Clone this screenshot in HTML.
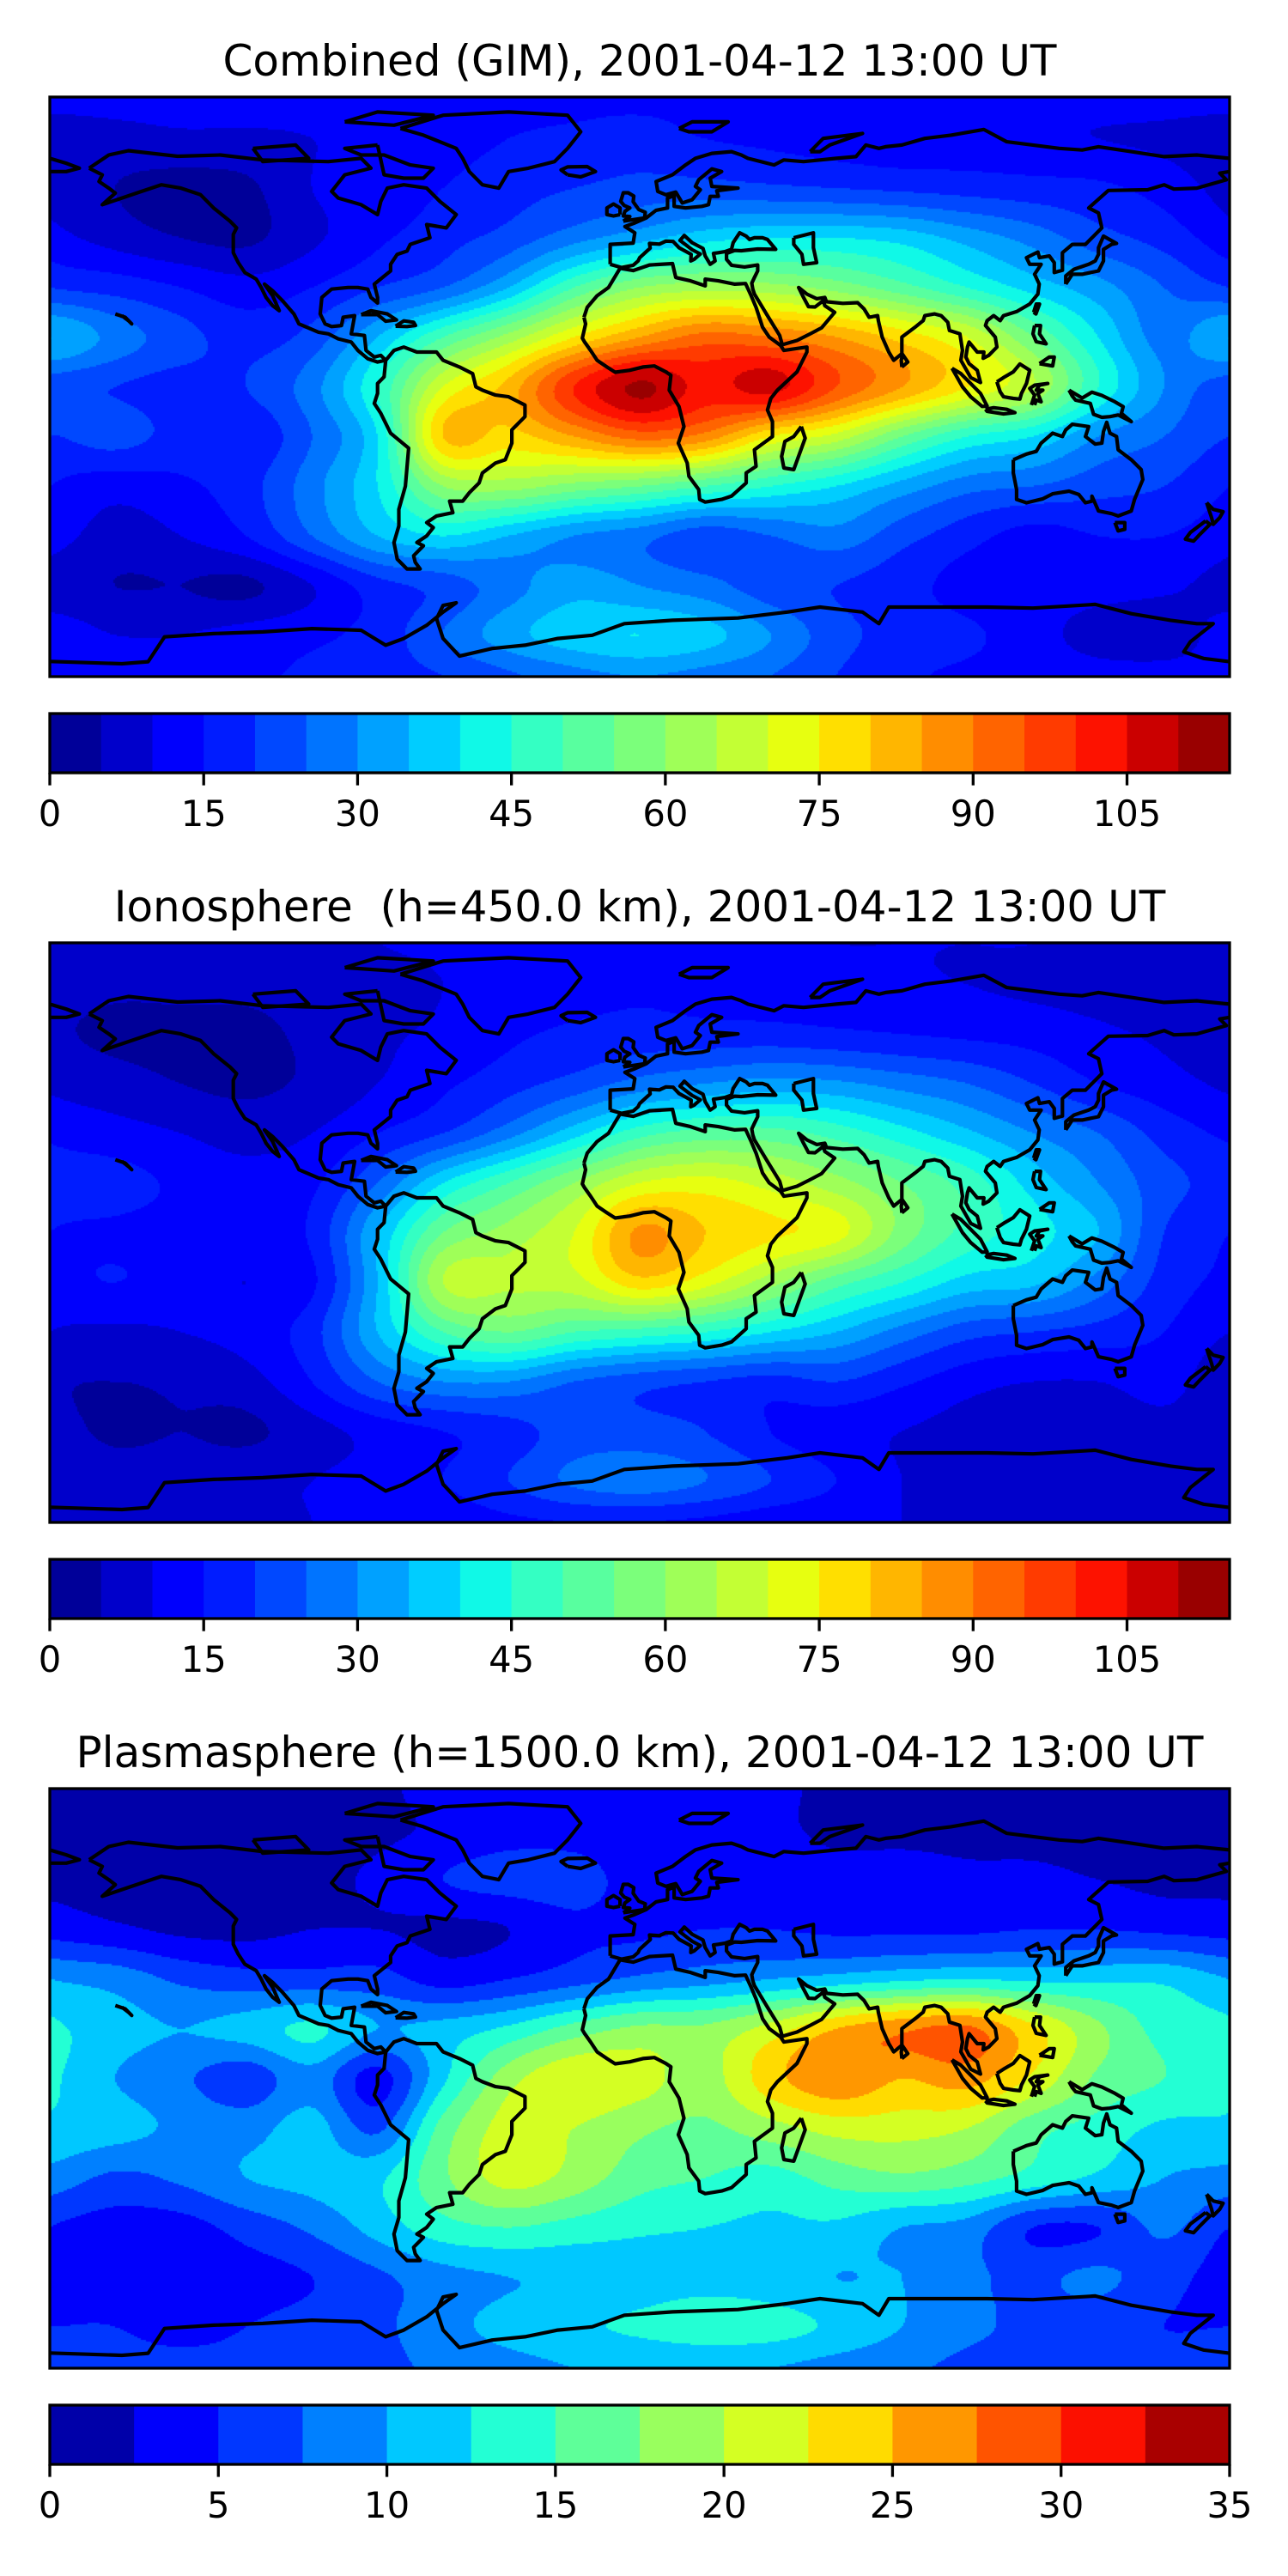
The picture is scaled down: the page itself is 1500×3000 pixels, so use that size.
<!DOCTYPE html>
<html><head><meta charset="utf-8">
<style>
html,body{margin:0;padding:0;background:#fff;}
body{width:1500px;height:3000px;position:relative;overflow:hidden;font-family:"DejaVu Sans","Liberation Sans",sans-serif;}
canvas{position:absolute;left:58px;}
#overlay{position:absolute;left:0;top:0;}
</style></head>
<body>
<canvas id="map0" width="1374" height="675" style="top:113px"></canvas>
<canvas id="map1" width="1374" height="675" style="top:1098px"></canvas>
<canvas id="map2" width="1374" height="675" style="top:2083px"></canvas>
<svg id="overlay" width="1500" height="3000" xmlns="http://www.w3.org/2000/svg">
<defs><clipPath id="mapclip"><rect x="0" y="0" width="1374" height="675"/></clipPath></defs>
<text x="745" y="88" font-size="50" text-anchor="middle" font-family="DejaVu Sans, sans-serif">Combined (GIM), 2001-04-12 13:00 UT</text>
<text x="745" y="1073" font-size="50" text-anchor="middle" font-family="DejaVu Sans, sans-serif" xml:space="preserve">Ionosphere  (h=450.0 km), 2001-04-12 13:00 UT</text>
<text x="745" y="2058" font-size="50" text-anchor="middle" font-family="DejaVu Sans, sans-serif">Plasmasphere (h=1500.0 km), 2001-04-12 13:00 UT</text>
</svg>
<script>
// ---------- data ----------
const gridLons = [-180,-160,-140,-120,-100,-80,-60,-40,-20,0,20,40,60,80,100,120,140,160,180];
const gridLats = [87.5,75,60,45,30,15,0,-15,-30,-45,-60,-75,-87.5];

const combinedTEC = [
[12,12,12,12,12,13,13,14,14,14,14,13,13,13,12,12,12,12,12],
[7,8,9,9,10,11,13,15,16,17,15,14,13,12,12,11,10,9,7],
[8,5,3,4,10,12,15,18,20,22,22,21,20,19,18,17,16,13,8],
[12,8,5,4,9,14,18,22,28,33,38,40,40,38,33,28,22,18,12],
[20,18,15,12,15,20,25,35,50,60,63,62,58,52,45,38,32,25,20],
[35,28,22,18,22,35,50,62,75,85,92,90,85,78,70,55,40,28,35],
[22,20,18,20,28,45,70,82,100,111,103,107,95,85,75,65,45,30,22],
[20,22,18,16,25,40,80,78,85,92,88,75,68,55,45,40,30,25,20],
[15,12,14,18,28,40,60,62,58,55,50,45,40,33,27,25,22,20,15],
[12,8,10,15,25,35,40,35,30,27,22,25,28,22,17,13,15,15,12],
[8,5,5,4,10,18,22,28,33,30,27,22,20,17,13,12,12,11,8],
[12,10,10,12,14,17,25,33,38,40,37,30,22,18,16,12,8,7,12],
[12,12,13,14,16,18,20,24,28,30,28,25,20,16,14,13,12,12,12]
];
const ionosphereTEC = [
[8,8,8,8,9,10,11,11,11,11,11,11,10,10,10,10,9,9,8],
[7,6,6,6,7,8,10,12,13,14,13,12,12,11,10,9,8,7,7],
[6,4,4,4,6,9,11,14,16,17,17,17,16,15,14,13,11,9,6],
[9,7,5,4,6,10,14,18,22,27,30,32,31,28,25,20,15,12,9],
[14,12,10,8,10,15,20,28,38,48,52,52,48,42,36,30,25,18,14],
[18,17,14,12,14,25,40,50,60,70,72,68,62,55,48,38,30,22,18],
[15,14,13,12,16,35,55,62,70,86,80,76,72,58,48,42,35,20,15],
[14,15,13,10,14,35,65,66,68,78,72,62,52,45,38,36,28,18,14],
[10,9,10,12,18,35,50,55,50,48,45,40,35,28,22,20,18,15,10],
[6,5,6,8,15,25,30,30,25,22,20,18,20,16,12,10,10,12,6],
[7,4,5,4,8,12,15,18,22,22,20,15,12,10,8,6,6,8,7],
[9,8,8,9,10,12,15,20,26,28,25,20,15,10,8,7,6,6,9],
[9,9,9,9,10,11,12,14,15,15,14,12,11,10,9,9,9,9,9]
];
const plasmasphereTEC = [
[2,2,2,2,2,2,3.5,3.5,3.5,3.5,3.5,3,2,2,2,2,2,2,2],
[2,2,2,2,2,2,3,4,4,3.5,3,3,2,2,2,2,2,2,2],
[2,1.5,1.5,1.5,1.8,3,5,6,6,4,4,4,3.5,3.5,3,3,2.5,2,2],
[4,3,2,1.8,2.5,2.5,2,2.5,4.5,4.5,5,5,4.5,4.5,4.5,5,5,4.5,4],
[10,9,7,6,6,6,4,5,6.5,8,9,10,11,12,12.5,12,12,12,10],
[13,11,10,11,13,10,11,13,16,18,18,21,25,27,28,23,18,14,13],
[13,10,8,6,9,4,12,19,22,21,19,24,27,25,26,22,17,15,13],
[12,11,9.5,9,11,7,16,21,20,18,17,19,21,21,20,16,14,12,12],
[9,7,8,10,11,12,17,21,19,16,15,14,16,17,16,14,12,10,9],
[5,4,4,6,8,11,14,15,14,13,12.5,12,12,10,9,5,5,8,5],
[4,4,3.5,4,5,7,9,10,10.5,11,11.5,11,10,10,8,7,8,6,4],
[5,5,4,5,6,7,9,11,12,13,14,13.5,12,10,8,7,6,5,5],
[6,6,6,6,7,7,8,9,10,10,10,10,9,8,7,7,6,6,6]
];

const levelsA = [0,5,10,15,20,25,30,35,40,45,50,55,60,65,70,75,80,85,90,95,100,105,110,115];
const ticksA = [0,15,30,45,60,75,90,105];
const levelsB = [0,2.5,5,7.5,10,12.5,15,17.5,20,22.5,25,27.5,30,32.5,35];
const ticksB = [0,5,10,15,20,25,30,35];

// coastlines (lon, lat)
const coastNorthAmerica = [[-168,66],[-162,70],[-156,71.3],[-141,69.6],[-128,70],[-115,68.5],[-95,68],[-85,69],[-82,66],[-90,64],[-94,59],[-92,57],[-85,55],[-80,52],[-79,56],[-77,60],[-72,61],[-65,60],[-61,56],[-56,52],[-59,48],[-65,49],[-64,45],[-70,43],[-71,41],[-74,40],[-76,37],[-76,35],[-81,31],[-80,27],[-80,25.3],[-82,27],[-83,29.5],[-86,30],[-89,30],[-94,29.5],[-97,27],[-97.5,22],[-96,19],[-94,18.2],[-91,18.5],[-90.5,21],[-87,21.5],[-88,16],[-84,15.5],[-83.5,11],[-81,9],[-79,9.5],[-77.5,8],[-80,7.5],[-83,8.5],[-86,11],[-88,13.5],[-92,14.5],[-95,16],[-98,16.5],[-104,19],[-105.5,22],[-109,26],[-112,29],[-114.5,31],[-112,27.5],[-110,23],[-112,24.5],[-114,27],[-115.5,30],[-117,32.5],[-120.5,34.5],[-122.5,37.5],[-124,40.5],[-124,46],[-123,48],[-125,50],[-130,54],[-134,58],[-140,60],[-146,61],[-152,59],[-158,57],[-164,55],[-160,58.5],[-162,60],[-165,62],[-164,64],[-168,66]];
const coastGreenland = [[-73,78],[-60,82],[-40,83],[-22,82],[-18,77],[-22,72],[-26,68],[-34,66],[-40,65],[-43,60],[-48,61],[-52,65],[-54,69],[-56,72],[-66,76],[-73,78]];
const coastBaffin = [[-80,73],[-90,72],[-85,70],[-78,70],[-70,67],[-63,66],[-66,63],[-72,63],[-78,64],[-80,73]];
const coastEllesmere = [[-90,80],[-80,83],[-63,82],[-75,79],[-90,80]];
const coastVictoria = [[-118,72],[-105,73],[-101,69],[-115,68],[-118,72]];
const coastIceland = [[-22,64],[-24,65.5],[-22,66.4],[-16,66.5],[-13.5,65],[-18,63.4],[-22,64]];
const coastSouthAmerica = [[-77.5,8],[-75,11],[-72,12],[-68,10.5],[-62,10.5],[-60,8],[-55,6],[-51,4],[-50,0],[-48,-1],[-44,-2.5],[-40,-3],[-35,-5.5],[-35,-9],[-39,-13],[-39,-17],[-41,-22],[-44,-23],[-48,-26],[-49,-29],[-52,-32],[-54,-34.5],[-58,-34.5],[-57,-38],[-62,-39],[-65,-41],[-63,-42.5],[-65,-45],[-68,-47],[-66,-48],[-69,-51],[-68.5,-53],[-67,-55],[-71,-55],[-74,-52],[-75,-47],[-73.5,-42],[-73.5,-37],[-71.5,-30],[-70.5,-18.5],[-76,-14],[-79,-8],[-81,-5],[-80,-2],[-80,1],[-78,3],[-77.5,8]];
const coastAfrica = [[-17,21],[-16,24],[-13,27.5],[-9.5,30],[-6,35.8],[-2,35.1],[3,36.8],[10,37.2],[11,33],[15.5,32],[20,30.5],[20,32.5],[24,32],[29,31],[32.3,31.2],[34,27.5],[35.5,24],[37.5,18],[39.5,15],[43,12.5],[44,11],[51,12],[51,10.5],[48,4.5],[42,-1],[40,-3.5],[39,-7],[40.5,-10.5],[40.5,-15],[35,-19],[35.5,-24],[32.5,-26],[32.5,-29],[28,-33],[25,-34],[20,-34.8],[18.3,-34],[18,-31],[15,-27],[14.5,-23],[11.8,-17],[13.5,-12],[12,-6],[9,-1],[9.5,3.5],[8,4.5],[4.5,6.3],[1,6],[-3,5],[-7.5,4.4],[-10,6],[-13,8],[-15,11],[-16.8,13.5],[-17.5,14.7],[-16.5,19],[-17,21]];
const coastMadagascar = [[49.3,-12],[50.5,-15.5],[47,-25],[44,-24.5],[43.3,-21],[44.3,-16.5],[47,-15],[49.3,-12]];
const coastEurasia = [[-9,37],[-9,43],[-2,43.4],[-1.5,46.5],[-4.5,48.4],[-1.5,49.5],[2,51],[5,53.3],[8.5,54],[8.5,57],[10.5,57.7],[10.5,54.5],[14,54],[19,54.5],[21,55],[21.5,57.5],[24,57.5],[23.5,59.2],[30,60],[25,60.3],[22,60.5],[21.5,63],[25,65],[22,65.8],[18,62.5],[17,60.5],[18.5,59.5],[16,56.5],[13,55.5],[11,58.8],[8,58],[5.5,59],[5,62],[10,64],[14,67],[17,69],[22,70.5],[28,71],[31,70],[33,69],[41,67],[44,68.5],[50,68],[55,68.5],[60,69],[66,69.5],[69,73],[73,72],[75,72.5],[80,73],[87,75],[95,76],[105,77.7],[112,74],[120,73],[128,72],[135,71.5],[140,72.5],[150,71],[160,69.5],[170,70],[180,69]];
const coastEastAsia = [[180,65],[177,64.5],[179,62.5],[170,60],[163,59.7],[160,61],[155,59.5],[143,59.3],[137,54],[140,52.5],[141,48],[136,43],[132,43],[129,40.5],[129,35.2],[126.5,34.5],[126.5,37.5],[125,39.5],[122,39],[121.5,40.7],[118,39],[119,37],[122.5,37],[120.5,34],[121.9,31],[121.5,28],[119,25],[115,22.7],[111,21.5],[110,20],[108,21.5],[106,20],[105.5,18.5],[108.5,15],[109,12],[106.5,9.5],[104.8,8.6],[105,10.5],[103,10.5],[100.5,13.5],[100,12],[99.5,9],[100.5,7],[103,5],[104,1.3],[101,2.8],[98,8],[98.5,11],[97.7,16],[94.5,17],[94,19.5],[92,21.5],[90,22],[87,21.5],[86.5,20],[84,18],[80,15],[80,10],[77.5,8],[76,10.5],[74,15],[72.8,20],[72.6,21.5],[70,21],[68.5,23.5],[66.5,25.4],[62,25.2],[57,25.7],[56.5,27],[54,26.6],[51,28],[48.5,30],[50,27],[51.5,24.2],[53.5,24.1],[56,26],[56.5,24.5],[59.5,22.5],[55.5,17.8],[52,16],[48,14],[43.5,12.7],[42.7,15.5],[39,21.5],[35,28],[34.5,29.5],[34.2,31.3],[35,33],[36,35],[36,36.8],[32,36.2],[28,36.7],[26.5,38.5],[26.5,40.3],[29,41.2],[31,41.1],[36,41.6],[41.5,41.5],[39,44.5],[37.5,45],[35,45],[33.5,44.5],[32.5,45.5],[30.5,46.5],[29.5,45],[28.5,43.5],[28,41.5],[26,40.8],[24,40.5],[22.5,40.3],[23,38],[21.5,37],[20,39.5],[19.3,41.8],[16,43.5],[13.6,45.7],[12.3,44.2],[16,41.4],[18.5,40.1],[16.6,38.5],[15.6,38],[15.7,40],[12,42],[10.2,43.9],[8,44],[6,43.1],[3,43.3],[3.2,41.9],[0,39],[-0.5,38],[-2,36.7],[-5.5,36],[-9,37]];
const coastChukotka = [[-180,69],[-175,67.5],[-171,66],[-175,65],[-180,65]];
const coastCaspian = [[47,45],[53,46.5],[53,42],[54,37.5],[50,37],[49.5,40],[47,43],[47,45]];
const coastJapan = [[130,31],[132,34],[135,34],[140,35],[141.5,38],[141.5,41.5],[144,43],[145.5,43.3],[141.5,45.5],[140,42],[140,40],[139,38],[137,37],[132.5,35.5],[130,33.5],[130,31]];
const coastBritain = [[-5,50],[1.5,51],[1.7,52.7],[-0.3,53.5],[-2,55.9],[-1.8,57.6],[-3.5,58.6],[-5,58.6],[-5.8,56],[-4.8,54.8],[-3,54],[-4.5,53],[-5,51.6],[-3,51.4],[-5,50]];
const coastIreland = [[-6,52],[-6,54],[-8,55.2],[-10,54],[-10,52],[-8,51.6],[-6,52]];
const coastAustralia = [[114,-22],[114,-26],[115,-31],[115,-34],[118,-35],[123,-33.8],[126,-32.3],[131,-31.5],[134,-32.5],[136,-35],[138,-34.5],[138,-33],[140,-37.5],[144,-38.3],[146,-39],[150,-37.5],[151,-34],[153.5,-28],[153,-25],[150,-22],[146,-19],[145.5,-15],[143.5,-14],[142.5,-10.7],[141.5,-13.5],[141,-17],[139,-17.3],[136,-15],[137,-12],[132,-11.3],[130,-13],[129,-15],[126,-14],[122.5,-17],[121,-19.5],[118,-20.3],[114,-22]];
const coastTasmania = [[145,-41],[148,-41],[148,-43],[146,-43.5],[145,-41]];
const coastNZNorth = [[173,-35],[175,-37],[178,-37.7],[177,-39.5],[175,-41.5],[174.5,-39.5],[173,-35]];
const coastNZSouth = [[172.7,-40.5],[174,-41.5],[171,-44.5],[169,-46.6],[166.5,-46],[168,-44],[172.7,-40.5]];
const coastSumatra = [[95.3,5.6],[98,4],[104,-2],[106,-5.8],[104.5,-5.9],[101,-3],[98.5,0],[95.3,5.6]];
const coastJava = [[105.5,-6.8],[108,-6.3],[112,-6.8],[114.5,-7.8],[111,-8.2],[106,-7.4],[105.5,-6.8]];
const coastBorneo = [[109,1.5],[111,2.8],[114,4.5],[116,6.9],[119,5],[118,1],[116.5,-2],[116,-3.7],[114,-3.5],[111,-3],[110,-1.5],[109,1.5]];
const coastSulawesi = [[119.5,-5.5],[120.5,-2.5],[119,-0.5],[120.5,0.5],[124.5,1],[122,0.5],[121,-1],[123,-1],[121.5,-2],[122.5,-4.5],[121,-4],[120.5,-5.5]];
const coastNewGuinea = [[131,-1],[135,-3.4],[138,-1.6],[141,-2.6],[145,-4.5],[147.5,-6],[147,-8],[150,-10.5],[146,-8.5],[143.5,-9],[141,-9.2],[138.5,-8.3],[137.5,-5],[133,-4],[132,-2.8],[131,-1]];
const coastLuzon = [[120.5,18.5],[122.3,18.5],[122,16],[124,13],[121,13.6],[120,16],[120.5,18.5]];
const coastMindanao = [[122,7],[126,6.3],[126.5,9],[125,9],[123.5,8],[122,7]];
const coastTaiwan = [[120.2,22.5],[121,25],[122,25],[120.9,22],[120.2,22.5]];
const coastSriLanka = [[80,6],[81.8,7.5],[80.2,9.8],[79.8,8],[80,6]];
const coastCuba = [[-85,21.8],[-82,23],[-77,22],[-74.2,20.2],[-77.5,19.8],[-80,21.8],[-85,21.8]];
const coastHispaniola = [[-74.5,18.3],[-72,19.9],[-69,19.5],[-68.4,18.5],[-71,18.2],[-74.5,18.3]];
const coastHawaii = [[-160,22],[-157,21],[-155,19],[-156,20],[-158,21.5]];
const coastNovayaZemlya = [[52,71],[56,75],[68,76.5],[58,73],[55,71],[52,71]];
const coastSvalbard = [[12,78],[16,80],[27,80],[22,77],[15,77],[12,78]];
const coastAntarctica = [[-180,-82.9],[-158,-83.6],[-150,-83],[-145,-75.5],[-130,-74.5],[-115,-74],[-100,-73],[-85,-73.5],[-77.5,-78],[-72,-76],[-65,-72],[-60,-68],[-56,-65.2],[-60,-66],[-62,-70],[-60,-76],[-55,-81.3],[-45,-79],[-35,-78],[-25,-76],[-14.5,-75],[-4.7,-71.5],[10,-70.5],[30,-69.8],[45,-68],[55,-66.5],[68,-68],[73,-71.5],[76,-66.5],[90,-66.5],[106,-66.5],[120,-66.8],[139,-65.7],[150,-68.5],[162,-70.5],[170,-71.5],[175,-71.5],[168,-77],[166,-80],[172,-82],[180,-83]];
const coastlines = [coastNorthAmerica,coastGreenland,coastBaffin,coastEllesmere,coastVictoria,coastIceland,coastSouthAmerica,coastAfrica,coastMadagascar,coastEurasia,coastEastAsia,coastChukotka,coastCaspian,coastJapan,coastBritain,coastIreland,coastAustralia,coastTasmania,coastNZNorth,coastNZSouth,coastSumatra,coastJava,coastBorneo,coastSulawesi,coastNewGuinea,coastLuzon,coastMindanao,coastTaiwan,coastSriLanka,coastCuba,coastHispaniola,coastHawaii,coastNovayaZemlya,coastSvalbard,coastAntarctica];

// ---------- layout ----------
const MAP_X = 58, MAP_W = 1374, MAP_H = 675;
const mapTops = [113, 1098, 2083];
const cbTops = [831, 1816, 2801];
const CB_H = 69;
const LAT_MAX = 87.5;

function xOfLon(lon){ return (lon + 180) / 360 * MAP_W; }
function yOfLat(lat){ return (LAT_MAX - lat) / (2 * LAT_MAX) * MAP_H; }

function interp(pts, x){
  if (x <= pts[0][0]) return pts[0][1];
  for (let i = 1; i < pts.length; i++) {
    if (x <= pts[i][0]) { const a = pts[i-1], b = pts[i]; return a[1] + (b[1]-a[1]) * (x-a[0]) / (b[0]-a[0]); }
  }
  return pts[pts.length-1][1];
}
function jet(t){
  const r = interp([[0,0],[0.35,0],[0.66,1],[0.89,1],[1,0.5]], t);
  const g = interp([[0,0],[0.125,0],[0.375,1],[0.64,1],[0.91,0],[1,0]], t);
  const b = interp([[0,0.5],[0.11,1],[0.34,1],[0.65,0],[1,0]], t);
  return [Math.round(r*255), Math.round(g*255), Math.round(b*255)];
}
function rgb(c){ return 'rgb(' + c[0] + ',' + c[1] + ',' + c[2] + ')'; }

function cr(p0,p1,p2,p3,t){
  return 0.5*((2*p1) + (-p0+p2)*t + (2*p0-5*p1+4*p2-p3)*t*t + (-p0+3*p1-3*p2+p3)*t*t*t);
}
function rowFloat(lat){
  for (let i = 0; i < gridLats.length-1; i++) {
    if (lat >= gridLats[i+1]) return i + (gridLats[i]-lat)/(gridLats[i]-gridLats[i+1]);
  }
  return gridLats.length-1;
}
function sampleGrid(grid, lon, lat){
  const nc = gridLons.length, nr = gridLats.length;
  const cf = (lon - gridLons[0]) / (gridLons[1]-gridLons[0]);
  const rf = rowFloat(lat);
  const c1 = Math.min(Math.floor(cf), nc-2), r1 = Math.min(Math.floor(rf), nr-2);
  const tc = cf - c1, tr = rf - r1;
  const vals = [];
  for (let dr = -1; dr <= 2; dr++) {
    const r = Math.max(0, Math.min(nr-1, r1+dr));
    const row = grid[r];
    const cv = [];
    for (let dc = -1; dc <= 2; dc++) {
      let c = c1 + dc;
      if (c < 0) c += nc-1; if (c > nc-1) c -= nc-1;
      cv.push(row[c]);
    }
    vals.push(cr(cv[0],cv[1],cv[2],cv[3],tc));
  }
  return cr(vals[0],vals[1],vals[2],vals[3],tr);
}

function drawMap(canvasId, grid, levels){
  const cv = document.getElementById(canvasId);
  const ctx = cv.getContext('2d');
  const img = ctx.createImageData(MAP_W, MAP_H);
  const n = levels.length - 1;
  const cols = [];
  for (let i = 0; i < n; i++) cols.push(jet((i+0.5)/n));
  const step = levels[1]-levels[0];
  const d = img.data;
  const S = 2;
  for (let py = 0; py < MAP_H; py += S) {
    const lat = LAT_MAX - (py + S/2) / MAP_H * 2 * LAT_MAX;
    for (let px = 0; px < MAP_W; px += S) {
      const lon = -180 + (px + S/2) / MAP_W * 360;
      const v = sampleGrid(grid, lon, lat);
      let bi = Math.floor((v - levels[0]) / step);
      bi = Math.max(0, Math.min(n-1, bi));
      const c = cols[bi];
      for (let yy = py; yy < Math.min(py+S, MAP_H); yy++) for (let xx = px; xx < Math.min(px+S, MAP_W); xx++) {
        const k = (yy*MAP_W + xx)*4;
        d[k]=c[0]; d[k+1]=c[1]; d[k+2]=c[2]; d[k+3]=255;
      }
    }
  }
  ctx.putImageData(img, 0, 0);
}

const SVGNS = 'http://www.w3.org/2000/svg';
const overlay = document.getElementById('overlay');
const panelNames = ['combined','ionosphere','plasmasphere'];

function drawOverlay(p, levels, ticks){
  const g = document.createElementNS(SVGNS, 'g');
  g.setAttribute('transform', 'translate(' + MAP_X + ',' + mapTops[p] + ')');
  
  
  overlay.appendChild(g);
  const cg = document.createElementNS(SVGNS, 'g');
  cg.setAttribute('clip-path', 'url(#mapclip)');
  
  
  g.appendChild(cg);
  coastlines.forEach(function(line){
    const pl = document.createElementNS(SVGNS, 'polyline');
    pl.setAttribute('points', line.map(function(q){ return xOfLon(q[0]).toFixed(1) + ',' + yOfLat(q[1]).toFixed(1); }).join(' '));
    pl.setAttribute('fill', 'none');
    pl.setAttribute('stroke', '#000');
    pl.setAttribute('stroke-width', '4.2');
    pl.setAttribute('stroke-linejoin', 'round');
    
    
    cg.appendChild(pl);
  });
  const fr = document.createElementNS(SVGNS, 'rect');
  fr.setAttribute('x', 0); fr.setAttribute('y', 0);
  fr.setAttribute('width', MAP_W); fr.setAttribute('height', MAP_H);
  fr.setAttribute('fill', 'none'); fr.setAttribute('stroke', '#000'); fr.setAttribute('stroke-width', '3.3');
  
  
  g.appendChild(fr);

  // colorbar
  const cb = document.createElementNS(SVGNS, 'g');
  cb.setAttribute('transform', 'translate(' + MAP_X + ',' + cbTops[p] + ')');
  
  
  overlay.appendChild(cb);
  const lo = levels[0], hi = levels[levels.length-1];
  const n = levels.length - 1;
  function xOfVal(v){ return (v - lo) / (hi - lo) * MAP_W; }
  for (let i = 0; i < n; i++) {
    const r = document.createElementNS(SVGNS, 'rect');
    const x0 = xOfVal(levels[i]), x1 = xOfVal(levels[i+1]);
    r.setAttribute('x', x0.toFixed(2)); r.setAttribute('y', 0);
    r.setAttribute('width', (x1 - x0 + 0.6).toFixed(2)); r.setAttribute('height', CB_H);
    r.setAttribute('fill', rgb(jet((i+0.5)/n)));
    
    
    cb.appendChild(r);
  }
  const cf = document.createElementNS(SVGNS, 'rect');
  cf.setAttribute('x', 0); cf.setAttribute('y', 0);
  cf.setAttribute('width', MAP_W); cf.setAttribute('height', CB_H);
  cf.setAttribute('fill', 'none'); cf.setAttribute('stroke', '#000'); cf.setAttribute('stroke-width', '3.3');
  
  
  cb.appendChild(cf);
  ticks.forEach(function(t){
    const x = xOfVal(t);
    const tl = document.createElementNS(SVGNS, 'line');
    tl.setAttribute('x1', x); tl.setAttribute('x2', x);
    tl.setAttribute('y1', CB_H); tl.setAttribute('y2', CB_H + 14.6);
    tl.setAttribute('stroke', '#000'); tl.setAttribute('stroke-width', '3.3');
    
    
    cb.appendChild(tl);
    const tx = document.createElementNS(SVGNS, 'text');
    tx.setAttribute('x', x); tx.setAttribute('y', CB_H + 62);
    tx.setAttribute('text-anchor', 'middle');
    tx.setAttribute('font-size', '41.7');
    tx.setAttribute('font-family', 'DejaVu Sans, sans-serif');
    tx.textContent = String(t);
    
    
    cb.appendChild(tx);
  });
}

drawMap('map0', combinedTEC, levelsA);
drawMap('map1', ionosphereTEC, levelsA);
drawMap('map2', plasmasphereTEC, levelsB);
drawOverlay(0, levelsA, ticksA);
drawOverlay(1, levelsA, ticksA);
drawOverlay(2, levelsB, ticksB);
</script>
</body></html>
